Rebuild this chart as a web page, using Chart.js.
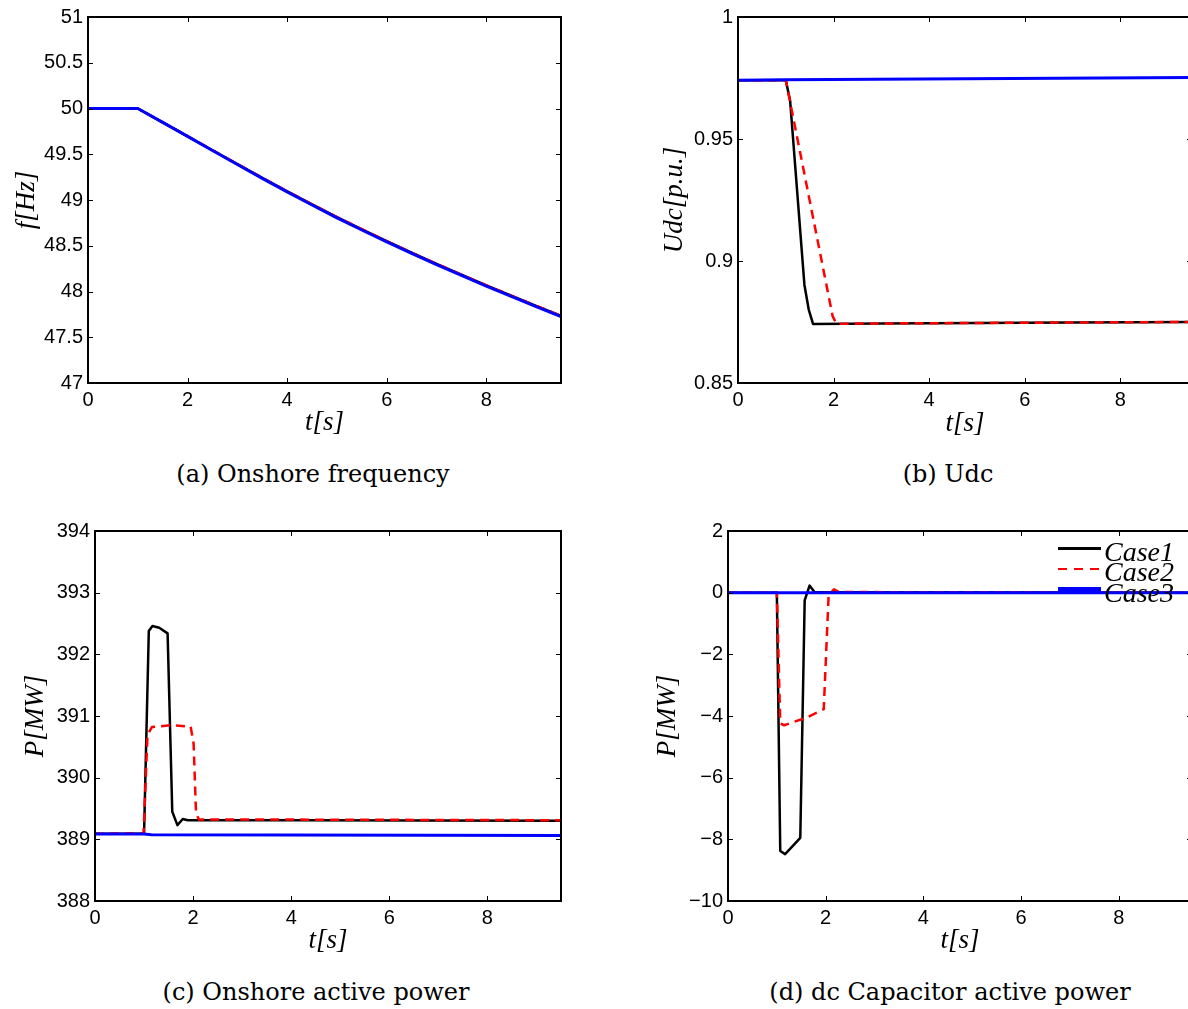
<!DOCTYPE html>
<html>
<head>
<meta charset="utf-8">
<script src="https://cdn.jsdelivr.net/npm/chart.js@4.4.1/dist/chart.umd.min.js"></script>
<style>
  body {
    margin: 0;
    width: 1188px;
    height: 1009px;
    overflow: hidden;
    position: relative;
    background: #fff;
  }
  .panel {
    position: absolute;
  }
  .caption {
    position: absolute;
    width: 500px;
    text-align: center;
    font-family: "DejaVu Serif", serif;
    font-size: 24px;
    line-height: 30px;
    color: #000;
  }
  #chart_d_legends ul {
    list-style: none;
    margin: 0;
    padding: 0;
  }
</style>
</head>
<body>
<div class="panel" style="left:0;top:0"><canvas id="chart_a" width="594" height="450"></canvas></div>
<div class="panel" style="left:594px;top:0"><canvas id="chart_b" width="620" height="450"></canvas></div>
<div class="panel" style="left:0;top:500px"><canvas id="chart_c" width="594" height="470"></canvas></div>
<div class="panel" style="left:594px;top:500px"><canvas id="chart_d" width="620" height="470"></canvas></div>
<div id="chart_d_legends" style="position:absolute;left:1058px;top:538px"></div>

<div class="caption" style="left:63px;top:459px">(a) Onshore frequency</div>
<div class="caption" style="left:698px;top:459px">(b) Udc</div>
<div class="caption" style="left:66px;top:977px">(c) Onshore active power</div>
<div class="caption" style="left:700px;top:977px">(d) dc Capacitor active power</div>

<script>
// ---- data ----
const timeTicks = [0, 2, 4, 6, 8];

// (a) onshore frequency
const freqTicks = [47, 47.5, 48, 48.5, 49, 49.5, 50, 50.5, 51];
const tFreq = [0, 1, 1.5, 2, 2.5, 3, 3.5, 4, 4.5, 5, 5.5, 6, 6.5, 7, 7.5, 8, 8.5, 9, 9.5];
const freqCase1 = [50, 50, 49.849, 49.697, 49.544, 49.392, 49.242, 49.095, 48.952, 48.813, 48.68, 48.55, 48.424, 48.302, 48.183, 48.067, 47.954, 47.843, 47.734];
const freqCase2 = [50, 50, 49.849, 49.698, 49.545, 49.393, 49.243, 49.096, 48.953, 48.814, 48.681, 48.551, 48.425, 48.303, 48.184, 48.068, 47.955, 47.844, 47.735];
const freqCase3 = [50, 50, 49.848, 49.695, 49.541, 49.388, 49.237, 49.089, 48.945, 48.805, 48.672, 48.542, 48.416, 48.294, 48.175, 48.059, 47.946, 47.835, 47.726];

// (b) Udc
const udcTicks = [0.85, 0.9, 0.95, 1];
const tUdc1 = [0, 1.0, 1.09, 1.39, 1.48, 1.57, 3, 5, 7, 9.5];
const udcCase1 = [0.9741, 0.9741, 0.9658, 0.8902, 0.8801, 0.8742, 0.8744, 0.8746, 0.8748, 0.875];
const tUdc2 = [0, 1.0, 1.98, 2.06, 3, 5, 7, 9.5];
const udcCase2 = [0.9741, 0.9741, 0.8774, 0.8743, 0.8744, 0.8746, 0.8748, 0.875];
const tUdc3 = [0, 1.0, 9.5];
const udcCase3 = [0.9741, 0.9743, 0.9752];

// (c) onshore active power
const pOnTicks = [388, 389, 390, 391, 392, 393, 394];
const tPon1 = [0, 1.0, 1.097, 1.17, 1.31, 1.48, 1.575, 1.68, 1.79, 1.89, 4, 9.5];
const pOnCase1 = [389.09, 389.09, 392.38, 392.46, 392.43, 392.34, 389.45, 389.23, 389.33, 389.31, 389.31, 389.3];
const tPon2 = [0, 0.99, 1.07, 1.16, 1.54, 1.95, 2.01, 2.06, 2.12, 4, 9.5];
const pOnCase2 = [389.09, 389.1, 390.69, 390.82, 390.85, 390.83, 390.55, 389.42, 389.32, 389.32, 389.31];
const tPon3 = [0, 1.0, 1.15, 9.5];
const pOnCase3 = [389.085, 389.085, 389.075, 389.064];

// (d) dc capacitor active power
const pCapTicks = [-10, -8, -6, -4, -2, 0, 2];
const tPcap1 = [0, 1.0, 1.07, 1.17, 1.48, 1.57, 1.67, 1.77, 9.5];
const pCapCase1 = [0, 0, -8.38, -8.48, -7.95, -0.25, 0.23, 0.02, 0];
const tPcap2 = [0, 1.0, 1.07, 1.15, 1.61, 1.96, 2.06, 2.17, 2.27, 9.5];
const pCapCase2 = [0, 0, -4.24, -4.3, -4.05, -3.78, -0.09, 0.11, 0.02, 0];
const tPcap3 = [0, 9.5];
const pCapCase3 = [0, 0];

const caseNames = ["Case1", "Case2", "Case3"];

// ---- helpers ----
const pts = (ts, vs) => ts.map((t, i) => ({ x: t, y: vs[i] }));

function caseDatasets(series) {
  // series: [[t, v], [t, v], [t, v]] for Case1..Case3
  return [
    {
      label: caseNames[0],
      data: pts(series[0][0], series[0][1]),
      borderColor: "#000000",
      borderWidth: 2.5,
      order: 2,
    },
    {
      label: caseNames[1],
      data: pts(series[1][0], series[1][1]),
      borderColor: "#ff0000",
      borderWidth: 2.5,
      borderDash: [9, 6],
      order: 1,
    },
    {
      label: caseNames[2],
      data: pts(series[2][0], series[2][1]),
      borderColor: "#0000ff",
      borderWidth: 3,
      order: 0,
    },
  ];
}

// box round the plot area with inward ticks on all four sides
const boxTicksPlugin = {
  id: "boxTicks",
  afterDatasetsDraw(chart) {
    const { ctx, chartArea: a, scales } = chart;
    const len = 5;
    ctx.save();
    ctx.strokeStyle = "#000";
    ctx.lineWidth = 1;
    ctx.beginPath();
    scales.x.ticks.forEach((t) => {
      const px = Math.round(scales.x.getPixelForValue(t.value)) + 0.5;
      ctx.moveTo(px, a.bottom);
      ctx.lineTo(px, a.bottom - len);
      ctx.moveTo(px, a.top);
      ctx.lineTo(px, a.top + len);
    });
    scales.y.ticks.forEach((t) => {
      const py = Math.round(scales.y.getPixelForValue(t.value)) + 0.5;
      ctx.moveTo(a.left, py);
      ctx.lineTo(a.left + len, py);
      ctx.moveTo(a.right, py);
      ctx.lineTo(a.right - len, py);
    });
    ctx.stroke();
    ctx.lineWidth = 2;
    ctx.strokeRect(a.left, a.top, a.right - a.left, a.bottom - a.top);
    ctx.restore();
  },
};

const getOrCreateLegendList = (chart, id) => {
  const legendContainer = document.getElementById(id);
  let listContainer = legendContainer.querySelector("ul");
  if (!listContainer) {
    listContainer = document.createElement("ul");
    legendContainer.appendChild(listContainer);
  }
  return listContainer;
};

const htmlLegendPlugin_chart_d = {
  id: "chart_d_legends",
  afterUpdate(chart) {
    const ul = getOrCreateLegendList(chart, "chart_d_legends");
    while (ul.firstChild) {
      ul.firstChild.remove();
    }
    chart.data.datasets.forEach((ds, i) => {
      const li = document.createElement("li");
      li.style.display = "flex";
      li.style.alignItems = "center";
      li.style.height = i == 1 ? "20px" : "21px";

      // line sample
      const sample = document.createElement("span");
      sample.style.display = "inline-block";
      sample.style.width = "43px";
      sample.style.height = ds.borderWidth + (i == 2 ? 2 : 0) + "px";
      sample.style.marginRight = "3px";
      if (ds.borderDash) {
        sample.style.background =
          "repeating-linear-gradient(to right, " + ds.borderColor + " 0 9px, transparent 9px 16px)";
      } else {
        sample.style.background = ds.borderColor;
      }

      const text = document.createElement("span");
      text.style.fontFamily = "'Liberation Serif', serif";
      text.style.fontStyle = "italic";
      text.style.fontSize = "28px";
      text.style.lineHeight = "20px";
      text.style.position = "relative";
      text.style.top = "3px";
      text.style.color = "#000";
      text.textContent = ds.label;

      li.appendChild(sample);
      li.appendChild(text);
      ul.appendChild(li);
    });
  },
};

function makeChart(id, opts) {
  const ctx = document.getElementById(id).getContext("2d");
  const tickFont = { family: "'Liberation Sans', Arial, sans-serif", size: 20 };
  const titleFont = { family: "'Liberation Serif', serif", size: 27, style: "italic", lineHeight: 1.2 };
  return new Chart(ctx, {
    type: "line",
    data: { datasets: caseDatasets(opts.series) },
    options: {
      responsive: false,
      animation: false,
      layout: {
        padding: { left: 0, top: opts.area.top, right: opts.area.right, bottom: 0 },
      },
      elements: {
        point: { radius: 0 },
        line: { tension: 0, fill: false, borderCapStyle: "butt", borderJoinStyle: "round" },
      },
      plugins: {
        legend: { display: false },
        tooltip: { enabled: false },
      },
      scales: {
        x: {
          type: "linear",
          min: 0,
          max: 9.5,
          grid: { display: false, drawTicks: false },
          border: { display: false },
          afterBuildTicks: (scale) => {
            scale.ticks = timeTicks.map((v) => ({ value: v }));
          },
          afterFit: (scale) => {
            scale.height = opts.area.xHeight;
          },
          ticks: {
            color: "#000",
            font: tickFont,
            padding: 5,
            maxRotation: 0,
            autoSkip: false,
          },
          title: {
            display: true,
            text: "t[s]",
            color: "#000",
            font: titleFont,
            padding: { top: 0, bottom: opts.area.xTitlePad },
          },
        },
        y: {
          type: "linear",
          min: opts.yTicks[0],
          max: opts.yTicks[opts.yTicks.length - 1],
          grid: { display: false, drawTicks: false },
          border: { display: false },
          afterBuildTicks: (scale) => {
            scale.ticks = opts.yTicks.map((v) => ({ value: v }));
          },
          afterFit: (scale) => {
            scale.width = opts.area.left;
          },
          ticks: {
            color: "#000",
            font: tickFont,
            padding: 5,
            autoSkip: false,
            callback: (v) => String(v).replace("-", "\u2212"),
          },
          title: {
            display: true,
            text: opts.yTitle,
            color: "#000",
            font: titleFont,
            padding: { top: opts.area.yTitlePad, bottom: 0 },
          },
        },
      },
    },
    plugins: opts.plugins || [boxTicksPlugin],
  });
}

makeChart("chart_a", {
  series: [[tFreq, freqCase1], [tFreq, freqCase2], [tFreq, freqCase3]],
  yTicks: freqTicks,
  yTitle: "f[Hz]",
  area: { left: 88, top: 13, right: 33, xHeight: 67, xTitlePad: 11, yTitlePad: 11 },
});

makeChart("chart_b", {
  series: [[tUdc1, udcCase1], [tUdc2, udcCase2], [tUdc3, udcCase3]],
  yTicks: udcTicks,
  yTitle: "Udc[p.u.]",
  area: { left: 144, top: 13, right: 22, xHeight: 67, xTitlePad: 10, yTitlePad: 65 },
});

makeChart("chart_c", {
  series: [[tPon1, pOnCase1], [tPon2, pOnCase2], [tPon3, pOnCase3]],
  yTicks: pOnTicks,
  yTitle: "P[MW]",
  area: { left: 95, top: 31, right: 33, xHeight: 69, xTitlePad: 13, yTitlePad: 20 },
});

makeChart("chart_d", {
  series: [[tPcap1, pCapCase1], [tPcap2, pCapCase2], [tPcap3, pCapCase3]],
  yTicks: pCapTicks,
  yTitle: "P[MW]",
  area: { left: 134, top: 31, right: 22, xHeight: 69, xTitlePad: 13, yTitlePad: 58 },
  plugins: [boxTicksPlugin, htmlLegendPlugin_chart_d],
});
</script>
</body>
</html>
